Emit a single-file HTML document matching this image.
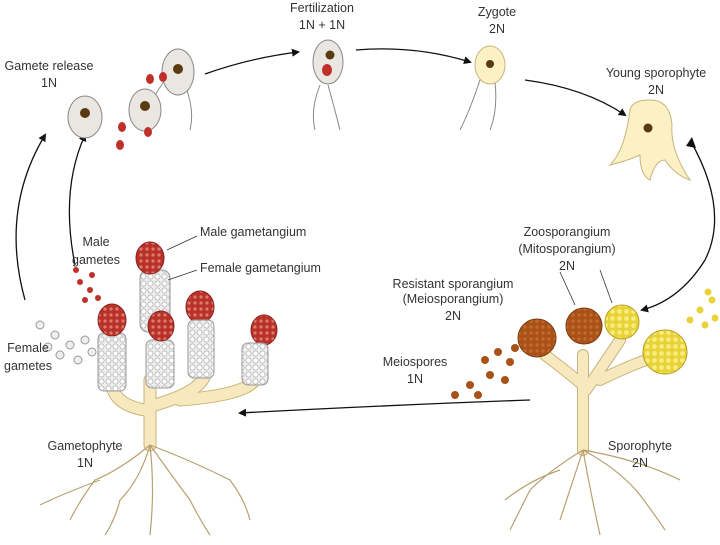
<!DOCTYPE html>
<html><head><meta charset="utf-8"><style>
body{margin:0;background:#fff;}
svg text{font-family:"Liberation Sans",sans-serif;font-size:12.5px;fill:#333;}
</style></head><body>
<svg width="720" height="540" viewBox="0 0 720 540" xmlns="http://www.w3.org/2000/svg">
<defs>
<marker id="ah" markerWidth="8" markerHeight="8" refX="6" refY="4" orient="auto" markerUnits="userSpaceOnUse"><path d="M0,0 L8,4 L0,8 Z" fill="#111"/></marker>
<pattern id="cells" width="7" height="7" patternUnits="userSpaceOnUse"><rect width="7" height="7" fill="#eee"/><circle cx="3.5" cy="3.5" r="2.6" fill="#fff" stroke="#aaa" stroke-width="0.7"/></pattern>
<pattern id="red" width="6" height="6" patternUnits="userSpaceOnUse"><rect width="6" height="6" fill="#b8322a"/><circle cx="3" cy="3" r="1.6" fill="#e07a6a"/></pattern>
<pattern id="yel" width="7" height="7" patternUnits="userSpaceOnUse"><rect width="7" height="7" fill="#e8d23a"/><circle cx="3.5" cy="3.5" r="2.4" fill="#f8ec7a"/></pattern>
<pattern id="brn" width="6" height="6" patternUnits="userSpaceOnUse"><rect width="6" height="6" fill="#a8521a"/><circle cx="3" cy="3" r="1.7" fill="#c26a2a"/></pattern>
</defs>

<!-- arrows -->
<g fill="none" stroke="#111" stroke-width="1.3">
<path d="M205,74 Q250,58 298,52" marker-end="url(#ah)"/>
<path d="M356,50 Q415,45 470,62" marker-end="url(#ah)"/>
<path d="M525,80 Q585,88 625,115" marker-end="url(#ah)"/>
<path d="M690,140 Q730,210 705,260 Q680,300 642,310" marker-end="url(#ah)"/>
<path d="M530,400 Q390,405 240,413" marker-end="url(#ah)"/>
<path d="M25,300 Q0,210 45,135" marker-end="url(#ah)"/>
<path d="M75,265 Q60,190 85,135" marker-end="url(#ah)"/>
</g>
<path d="M686,146 L692,137 L696,148Z" fill="#111"/>

<!-- gametes top -->
<g stroke="#888" stroke-width="1">
<path d="M165,80 Q150,100 140,130 M185,85 Q195,110 190,130" fill="none"/>
<ellipse cx="178" cy="72" rx="16" ry="23" fill="#eae6e2"/><circle cx="178" cy="69" r="5" fill="#5a3a10" stroke="none"/>
<ellipse cx="85" cy="117" rx="17" ry="21" fill="#eae6e2"/><circle cx="85" cy="113" r="5" fill="#5a3a10" stroke="none"/>
<ellipse cx="145" cy="110" rx="16" ry="21" fill="#eae6e2"/><circle cx="145" cy="106" r="5" fill="#5a3a10" stroke="none"/>
<path d="M320,85 Q310,110 315,130 M328,85 Q335,110 340,130" fill="none"/>
<ellipse cx="328" cy="62" rx="15" ry="22" fill="#eae6e2"/><circle cx="330" cy="55" r="4.5" fill="#5a3a10" stroke="none"/>
</g>
<g fill="#c0302a">
<ellipse cx="150" cy="79" rx="4" ry="5"/><ellipse cx="163" cy="77" rx="4" ry="5"/>
<ellipse cx="122" cy="127" rx="4" ry="5"/><ellipse cx="120" cy="145" rx="4" ry="5"/><ellipse cx="148" cy="132" rx="4" ry="5"/>
<ellipse cx="327" cy="70" rx="5" ry="6"/>
</g>
<!-- zygote -->
<path d="M480,80 Q470,110 460,130 M495,82 Q498,110 490,130" stroke="#888" fill="none"/>
<ellipse cx="490" cy="65" rx="15" ry="19" fill="#fbf1c4" stroke="#c8b47a"/><circle cx="490" cy="64" r="4" fill="#5a3a10"/>
<!-- young sporophyte -->
<path d="M630,110 Q625,150 610,165 Q630,160 640,155 Q640,175 650,180 Q655,160 665,160 Q675,175 690,180 Q670,150 672,125 Q670,100 650,100 Q632,100 630,110Z" fill="#fbf1c4" stroke="#c8b47a"/>
<circle cx="648" cy="128" r="4.5" fill="#5a3a10"/>

<!-- gametophyte stalks -->
<g fill="none" stroke-linecap="round">
<g stroke="#c8b47a" stroke-width="13">
<path d="M150,445 L150,380"/><path d="M112,385 Q115,405 145,410"/><path d="M205,375 Q200,392 155,405"/><path d="M255,380 Q245,395 180,400"/>
</g>
<g stroke="#f7e9bd" stroke-width="11">
<path d="M150,445 L150,380"/><path d="M112,385 Q115,405 145,410"/><path d="M205,375 Q200,392 155,405"/><path d="M255,380 Q245,395 180,400"/>
</g>
</g>
<g stroke="#b8a070" fill="none" stroke-width="1.2">
<path d="M150,445 Q120,470 95,480 Q80,500 70,520 M150,445 Q140,480 120,500 Q115,520 105,535 M150,445 Q155,490 150,535 M150,445 Q175,480 190,500 Q200,520 210,535 M150,445 Q190,460 230,480 Q245,500 250,520 M100,480 Q60,495 40,505"/>
</g>
<rect x="98" y="333" width="28" height="58" rx="6" fill="url(#cells)" stroke="#999"/>
<ellipse cx="112" cy="320" rx="14" ry="16" fill="url(#red)" stroke="#822"/>
<rect x="140" y="270" width="30" height="62" rx="8" fill="url(#cells)" stroke="#999"/>
<ellipse cx="150" cy="258" rx="14" ry="16" fill="url(#red)" stroke="#822"/>
<rect x="146" y="340" width="28" height="48" rx="6" fill="url(#cells)" stroke="#999"/>
<ellipse cx="161" cy="326" rx="13" ry="15" fill="url(#red)" stroke="#822"/>
<ellipse cx="200" cy="307" rx="14" ry="16" fill="url(#red)" stroke="#822"/>
<rect x="188" y="320" width="26" height="58" rx="6" fill="url(#cells)" stroke="#999"/>
<ellipse cx="264" cy="330" rx="13" ry="15" fill="url(#red)" stroke="#822"/>
<rect x="242" y="343" width="26" height="42" rx="6" fill="url(#cells)" stroke="#999"/>
<g fill="#c0302a"><circle cx="80" cy="282" r="3"/><circle cx="90" cy="290" r="3"/><circle cx="98" cy="298" r="3"/><circle cx="85" cy="300" r="3"/><circle cx="76" cy="270" r="3"/><circle cx="92" cy="275" r="3"/></g>
<g fill="#eee" stroke="#999"><circle cx="40" cy="325" r="4"/><circle cx="55" cy="335" r="4"/><circle cx="70" cy="345" r="4"/><circle cx="85" cy="340" r="4"/><circle cx="60" cy="355" r="4"/><circle cx="78" cy="360" r="4"/><circle cx="92" cy="352" r="4"/><circle cx="48" cy="347" r="4"/></g>
<g stroke="#333" stroke-width="0.8"><line x1="167" y1="250" x2="197" y2="236"/><line x1="168" y1="280" x2="197" y2="270"/></g>

<!-- sporophyte stalks -->
<g fill="none" stroke-linecap="round">
<g stroke="#c8b47a" stroke-width="12">
<path d="M583,450 L583,355"/><path d="M583,385 Q565,370 545,355"/><path d="M586,390 Q600,370 620,340"/><path d="M600,380 Q630,365 660,355"/>
</g>
<g stroke="#f7e9bd" stroke-width="10">
<path d="M583,450 L583,355"/><path d="M583,385 Q565,370 545,355"/><path d="M586,390 Q600,370 620,340"/><path d="M600,380 Q630,365 660,355"/>
</g>
</g>
<g stroke="#b8a070" fill="none" stroke-width="1.2">
<path d="M583,450 Q550,470 530,490 Q520,510 510,530 M583,450 Q570,490 560,520 M583,450 Q590,490 600,535 M583,450 Q620,470 640,495 Q655,515 665,530 M583,450 Q640,460 680,480 M560,470 Q530,480 505,500"/>
</g>
<circle cx="537" cy="338" r="19" fill="url(#brn)" stroke="#7a3a10"/>
<circle cx="584" cy="326" r="18" fill="url(#brn)" stroke="#7a3a10"/>
<circle cx="622" cy="322" r="17" fill="url(#yel)" stroke="#b8a020"/>
<circle cx="665" cy="352" r="22" fill="url(#yel)" stroke="#b8a020"/>
<g fill="#a8521a"><circle cx="485" cy="360" r="4"/><circle cx="498" cy="352" r="4"/><circle cx="510" cy="362" r="4"/><circle cx="490" cy="375" r="4"/><circle cx="505" cy="380" r="4"/><circle cx="470" cy="385" r="4"/><circle cx="455" cy="395" r="4"/><circle cx="478" cy="395" r="4"/><circle cx="515" cy="348" r="4"/></g>
<g fill="#e8d23a"><circle cx="690" cy="320" r="3.5"/><circle cx="700" cy="310" r="3.5"/><circle cx="712" cy="300" r="3.5"/><circle cx="705" cy="325" r="3.5"/><circle cx="715" cy="318" r="3.5"/><circle cx="708" cy="292" r="3.5"/></g>
<g stroke="#333" stroke-width="0.8"><line x1="600" y1="270" x2="612" y2="303"/><line x1="560" y1="272" x2="575" y2="305"/></g>

<!-- labels -->
<g text-anchor="middle">
<text x="322" y="12">Fertilization</text><text x="322" y="29">1N + 1N</text>
<text x="497" y="16">Zygote</text><text x="497" y="33">2N</text>
<text x="656" y="77">Young sporophyte</text><text x="656" y="94">2N</text>
<text x="49" y="70">Gamete release</text><text x="49" y="87">1N</text>
<text x="567" y="236">Zoosporangium</text><text x="567" y="253">(Mitosporangium)</text><text x="567" y="270">2N</text>
<text x="453" y="288">Resistant sporangium</text><text x="453" y="303">(Meiosporangium)</text><text x="453" y="320">2N</text>
<text x="415" y="366">Meiospores</text><text x="415" y="383">1N</text>
<text x="85" y="450">Gametophyte</text><text x="85" y="467">1N</text>
<text x="640" y="450">Sporophyte</text><text x="640" y="467">2N</text>
<text x="96" y="246">Male</text><text x="96" y="264">gametes</text>
<text x="28" y="352">Female</text><text x="28" y="370">gametes</text>
</g>
<text x="200" y="236">Male gametangium</text>
<text x="200" y="272">Female gametangium</text>
</svg>
</body></html>
